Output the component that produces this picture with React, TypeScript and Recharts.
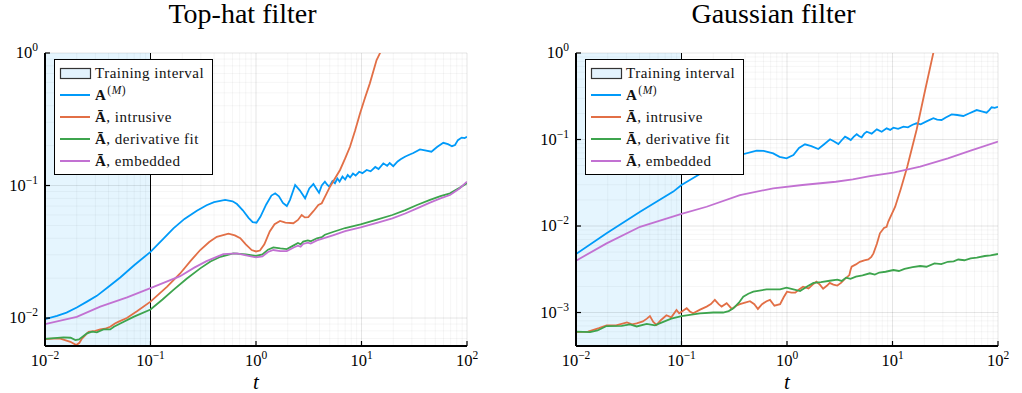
import {
  LineChart,
  Line,
  XAxis,
  YAxis,
  ReferenceArea,
  ReferenceLine,
} from 'recharts';

// Top-hat filter panel, [t, error] pairs
const topHatRef: [number, number][] = [
  [0.01, 0.0098], [0.013, 0.0104], [0.016, 0.011], [0.02, 0.012], [0.025, 0.0133],
  [0.031, 0.0147], [0.04, 0.0172], [0.052, 0.0203], [0.07, 0.025], [0.1, 0.0316],
  [0.13, 0.039], [0.165, 0.0475], [0.21, 0.056], [0.275, 0.0645], [0.34, 0.071],
  [0.4, 0.075], [0.51, 0.0778], [0.6, 0.076], [0.66, 0.0725], [0.75, 0.065],
  [0.85, 0.057], [0.93, 0.053], [1.01, 0.0524], [1.1, 0.058], [1.25, 0.072],
  [1.4, 0.084], [1.52, 0.0873], [1.65, 0.083], [1.8, 0.074], [1.96, 0.07],
  [2.1, 0.078], [2.35, 0.101], [2.6, 0.092], [2.92, 0.08], [3.2, 0.095],
  [3.5, 0.1026], [3.75, 0.094], [3.96, 0.088], [4.2, 0.1], [4.5, 0.107],
  [4.75, 0.101], [4.95, 0.098], [5.3, 0.108], [5.6, 0.104], [5.9, 0.113],
  [6.2, 0.107], [6.6, 0.117], [7.0, 0.111], [7.4, 0.12], [7.8, 0.115],
  [8.3, 0.123], [8.8, 0.119], [9.5, 0.127], [10.2, 0.124], [11.2, 0.131],
  [12.2, 0.128], [13.5, 0.138], [14.5, 0.133], [16.1, 0.147], [17.5, 0.141],
  [18.5, 0.148], [20, 0.14], [22, 0.152], [23.5, 0.158], [25.8, 0.165],
  [28, 0.17], [31, 0.176], [35.8, 0.1875], [40, 0.184], [46, 0.18],
  [52, 0.195], [59.6, 0.21], [66, 0.205], [72, 0.198], [77, 0.202],
  [82, 0.22], [89, 0.23], [95, 0.228], [100, 0.233],
];
const topHatIntrusive: [number, number][] = [
  [0.01, 0.00695], [0.012, 0.007], [0.014, 0.007], [0.0174, 0.00662], [0.0198, 0.00625],
  [0.0212, 0.0065], [0.0224, 0.007], [0.0259, 0.00788], [0.03, 0.008], [0.0334, 0.0082],
  [0.037, 0.0083], [0.0415, 0.0086], [0.046, 0.0091], [0.05, 0.0094], [0.0597, 0.01],
  [0.075, 0.0113], [0.1, 0.0133], [0.143, 0.0172], [0.191, 0.0217], [0.24, 0.027],
  [0.296, 0.0326], [0.36, 0.0375], [0.425, 0.041], [0.548, 0.0433], [0.63, 0.042],
  [0.71, 0.04], [0.8, 0.036], [0.91, 0.0326], [1.0, 0.0318], [1.09, 0.0323],
  [1.2, 0.036], [1.35, 0.045], [1.5, 0.051], [1.69, 0.054], [1.9, 0.0525],
  [2.26, 0.0519], [2.5, 0.055], [2.71, 0.0599], [2.9, 0.0575], [3.13, 0.0578],
  [3.5, 0.064], [3.9, 0.0713], [4.2, 0.0735], [4.6, 0.085], [5.03, 0.098],
  [5.6, 0.113], [6.26, 0.131], [7.0, 0.16], [7.78, 0.196], [8.7, 0.26],
  [9.68, 0.35], [10.8, 0.46], [12, 0.59], [13.9, 0.885], [15, 1.0], [16, 1.15],
];
const topHatDerivative: [number, number][] = [
  [0.01, 0.00695], [0.015, 0.00714], [0.0175, 0.0071], [0.0194, 0.00682], [0.021, 0.0069],
  [0.025, 0.00766], [0.028, 0.0079], [0.031, 0.0078], [0.0358, 0.0082], [0.0415, 0.0082],
  [0.045, 0.0086], [0.0517, 0.0091], [0.069, 0.0102], [0.1, 0.0116], [0.13, 0.0138],
  [0.165, 0.0163], [0.22, 0.0198], [0.296, 0.0237], [0.37, 0.0267], [0.46, 0.029],
  [0.61, 0.0308], [0.8, 0.0302], [1.0, 0.0294], [1.15, 0.0302], [1.3, 0.0328],
  [1.46, 0.0341], [1.7, 0.0335], [1.96, 0.0331], [2.3, 0.0355], [2.5, 0.0368],
  [2.65, 0.036], [2.8, 0.0377], [3.1, 0.0385], [3.3, 0.038], [3.78, 0.04],
  [4.2, 0.0408], [4.5, 0.0425], [5.44, 0.0448], [7, 0.0478], [9.8, 0.051],
  [14, 0.0553], [19.6, 0.0599], [26, 0.0652], [33.6, 0.0713], [44, 0.0775],
  [56, 0.0833], [69, 0.0873], [85, 0.096], [100, 0.104],
];
const topHatEmbedded: [number, number][] = [
  [0.01, 0.009], [0.02, 0.0102], [0.0334, 0.0122], [0.06, 0.0143], [0.1, 0.0168],
  [0.191, 0.0207], [0.26, 0.024], [0.34, 0.0269], [0.49, 0.0304], [0.66, 0.0308],
  [0.85, 0.0295], [1.0, 0.0287], [1.15, 0.0292], [1.3, 0.0315], [1.46, 0.0326],
  [1.7, 0.032], [1.96, 0.032], [2.3, 0.0342], [2.5, 0.0352], [2.65, 0.0345],
  [2.8, 0.0362], [3.1, 0.037], [3.3, 0.0365], [3.78, 0.0385], [4.5, 0.0402],
  [5.44, 0.0423], [7, 0.0452], [9.8, 0.0483], [14, 0.0522], [19.6, 0.0565],
  [26, 0.0615], [33.6, 0.0673], [44, 0.074], [56, 0.08], [69, 0.0848],
  [85, 0.095], [100, 0.107],
];

// Gaussian filter panel
const gaussRef: [number, number][] = [
  [0.01, 0.00475], [0.0195, 0.00823], [0.0405, 0.0146], [0.0836, 0.025], [0.1, 0.0298],
  [0.173, 0.0444], [0.31, 0.0632], [0.516, 0.0743], [0.6, 0.074], [0.74, 0.069],
  [0.85, 0.063], [0.99, 0.0605], [1.15, 0.066], [1.3, 0.08], [1.48, 0.088],
  [1.7, 0.084], [1.98, 0.0776], [2.25, 0.088], [2.56, 0.1005], [2.8, 0.095],
  [3.07, 0.0887], [3.3, 0.098], [3.55, 0.108], [3.8, 0.103], [4.02, 0.0987],
  [4.3, 0.108], [4.58, 0.115], [4.85, 0.109], [5.1, 0.106], [5.4, 0.117],
  [5.7, 0.123], [6.35, 0.117], [7.1, 0.131], [7.9, 0.123], [8.8, 0.1346],
  [9.5, 0.129], [10.2, 0.137], [11.3, 0.133], [12.7, 0.1406], [14, 0.138],
  [15.5, 0.148], [16.9, 0.154], [18.5, 0.15], [21, 0.162], [24.4, 0.176],
  [26.5, 0.17], [29.2, 0.168], [32, 0.18], [36.4, 0.195], [41, 0.192],
  [46.9, 0.187], [53, 0.2], [62.8, 0.219], [70, 0.212], [78, 0.204],
  [83, 0.22], [87, 0.236], [93, 0.232], [100, 0.239],
];
const gaussIntrusive: [number, number][] = [
  [0.01, 0.000595], [0.013, 0.0006], [0.0165, 0.00066], [0.0195, 0.00071], [0.024, 0.00071],
  [0.0304, 0.00077], [0.034, 0.00073], [0.0376, 0.00075], [0.043, 0.00079], [0.047, 0.00085],
  [0.0502, 0.00091], [0.054, 0.00078], [0.058, 0.00072], [0.064, 0.00082], [0.072, 0.00093],
  [0.08, 0.00088], [0.0897, 0.00107], [0.095, 0.00098], [0.1, 0.00102], [0.112, 0.00112],
  [0.12, 0.00103], [0.129, 0.00098], [0.15, 0.00108], [0.173, 0.00117], [0.19, 0.00125],
  [0.207, 0.0014], [0.225, 0.00125], [0.24, 0.00117], [0.268, 0.00128], [0.3, 0.0011],
  [0.33, 0.0012], [0.358, 0.00125], [0.4, 0.0013], [0.446, 0.00135], [0.49, 0.00125],
  [0.53, 0.0011], [0.58, 0.00125], [0.64, 0.00135], [0.69, 0.0014], [0.76, 0.0012],
  [0.86, 0.00125], [0.93, 0.0015], [1.0, 0.00174], [1.1, 0.0017], [1.2, 0.0017],
  [1.3, 0.00185], [1.42, 0.00199], [1.6, 0.0019], [1.75, 0.0021], [1.9, 0.00227],
  [2.05, 0.0021], [2.2, 0.00188], [2.4, 0.00205], [2.54, 0.0022], [2.75, 0.0021],
  [3.0, 0.00205], [3.25, 0.0022], [3.5, 0.00242], [3.9, 0.00271], [4.0, 0.0031],
  [4.1, 0.00339], [4.5, 0.0036], [4.9, 0.00386], [5.4, 0.004], [5.9, 0.00412],
  [6.3, 0.0044], [6.6, 0.00483], [7.1, 0.0062], [7.6, 0.00823], [8.3, 0.0095],
  [8.8, 0.0098], [9.1, 0.0112], [10.6, 0.0167], [12, 0.027], [13.8, 0.0485],
  [16.9, 0.129], [20.4, 0.373], [24.5, 1.03], [26, 1.3],
];
const gaussDerivative: [number, number][] = [
  [0.01, 0.0006], [0.0136, 0.000595], [0.016, 0.00062], [0.0195, 0.000698], [0.0271, 0.0007],
  [0.0325, 0.00073], [0.0376, 0.00069], [0.0468, 0.00074], [0.056, 0.00071], [0.0672, 0.00078],
  [0.08, 0.00085], [0.1, 0.00091], [0.15, 0.00098], [0.2, 0.001], [0.248, 0.001],
  [0.28, 0.00104], [0.31, 0.00112], [0.35, 0.0013], [0.385, 0.00152], [0.43, 0.00165],
  [0.48, 0.00174], [0.64, 0.00185], [0.86, 0.00185], [0.99, 0.00194], [1.15, 0.00185],
  [1.33, 0.00177], [1.55, 0.002], [1.78, 0.0022], [2.1, 0.00225], [2.54, 0.00233],
  [3.0, 0.0024], [3.3, 0.00232], [3.63, 0.00253], [4.0, 0.00245], [4.5, 0.0026],
  [5.2, 0.00268], [6.1, 0.00284], [6.8, 0.00275], [7.5, 0.0029], [8.6, 0.00296],
  [10.2, 0.0031], [11.5, 0.00302], [13, 0.0032], [15.5, 0.00335], [18.3, 0.00345],
  [21, 0.00338], [25, 0.0037], [29, 0.00362], [33.5, 0.00386], [38, 0.0039],
  [42, 0.0041], [48, 0.00402], [55, 0.00423], [63, 0.0043], [75, 0.0045],
  [85, 0.00458], [100, 0.00475],
];
const gaussEmbedded: [number, number][] = [
  [0.01, 0.00397], [0.0195, 0.0063], [0.0405, 0.0098], [0.1, 0.0138], [0.173, 0.0167],
  [0.358, 0.0228], [0.74, 0.0273], [1.4, 0.0298], [2.9, 0.0325], [4.2, 0.0346],
  [6.1, 0.0378], [10.2, 0.0413], [18.3, 0.0485], [33.5, 0.0605], [55, 0.0743],
  [100, 0.0944],
];

const xTicks = [0.01, 0.1, 1, 10, 100];
const topHatYTicks = [0.01, 0.1, 1];
const gaussYTicks = [0.001, 0.01, 0.1, 1];
const trainingInterval = [0.01, 0.1];

const COLORS = {
  ref: '#009af9',
  intrusive: '#e26f46',
  derivative: '#3da44d',
  embedded: '#c271d2',
};
const SERIF = '"Liberation Serif", "DejaVu Serif", serif';

const toRows = (pts: [number, number][]) => pts.map(([t, v]) => ({ t, v }));

// 1..9 x 10^e for every decade between lo and hi
function logGrid(lo: number, hi: number) {
  const out: { v: number; major: boolean }[] = [];
  for (let e = lo; e < hi; e++) {
    for (let m = 1; m <= 9; m++) out.push({ v: Number((m * Math.pow(10, e)).toPrecision(3)), major: m === 1 });
  }
  out.push({ v: Math.pow(10, hi), major: true });
  return out;
}

const expLabel = (v: number) => {
  const e = Math.round(Math.log10(v));
  return e < 0 ? '\u2212' + -e : String(e);
};

const XTick = (props: any) => {
  const { x, y, payload } = props;
  return (
    <g>
      <line x1={x} y1={y} x2={x} y2={y - 5} stroke="#000" strokeWidth={1.2} />
      <text x={x} y={y + 20} textAnchor="middle" fontFamily={SERIF} fontSize={16.5} fill="#000">
        10
        <tspan dy={-7} fontSize={11.5}>{expLabel(payload.value)}</tspan>
      </text>
    </g>
  );
};

const YTick = (props: any) => {
  const { x, y, payload } = props;
  return (
    <g>
      <line x1={x} y1={y} x2={x + 5} y2={y} stroke="#000" strokeWidth={1.2} />
      <text x={x - 7} y={y + 5} textAnchor="end" fontFamily={SERIF} fontSize={16.5} fill="#000">
        10
        <tspan dy={-7} fontSize={11.5}>{expLabel(payload.value)}</tspan>
      </text>
    </g>
  );
};

const Bold = ({ children }: { children: any }) => <span style={{ fontWeight: 700 }}>{children}</span>;

const legendRows = [
  { key: 'train', color: '', label: <>Training interval</> },
  {
    key: 'ref',
    color: COLORS.ref,
    label: (
      <>
        <Bold>A</Bold>
        <span style={{ fontSize: 11.5, position: 'relative', top: -6, marginLeft: 1 }}>
          (<i>M</i>)
        </span>
      </>
    ),
  },
  { key: 'intrusive', color: COLORS.intrusive, label: <><Bold>Ā</Bold>, intrusive</> },
  { key: 'derivative', color: COLORS.derivative, label: <><Bold>Ā</Bold>, derivative fit</> },
  { key: 'embedded', color: COLORS.embedded, label: <><Bold>Ā</Bold>, embedded</> },
];

const LegendBox = () => (
  <div
    style={{
      width: 157,
      border: '1.5px solid #000',
      background: '#fff',
      padding: '2px 0 2px 0',
      fontFamily: SERIF,
      fontSize: 15,
      letterSpacing: 0.5,
      color: '#111',
    }}
  >
    {legendRows.map((r) => (
      <div key={r.key} style={{ display: 'flex', alignItems: 'center', height: 22 }}>
        <svg width={40} height={14} style={{ flex: 'none' }}>
          {r.key === 'train' ? (
            <rect x={5.5} y={2.5} width={30} height={10} fill="#e3f2fd" stroke="#333" strokeWidth={1.2} />
          ) : (
            <line x1={5} x2={35} y1={7} y2={7} stroke={r.color} strokeWidth={2} />
          )}
        </svg>
        <span style={{ whiteSpace: 'nowrap' }}>{r.label}</span>
      </div>
    ))}
  </div>
);

type PanelProps = {
  title: string;
  left: number;
  yTicks: number[];
  yMinExp: number;
  gridLo: number;
  ref_: [number, number][];
  intrusive: [number, number][];
  derivative: [number, number][];
  embedded: [number, number][];
};

const Panel = ({ title, left, yTicks, yMinExp, gridLo, ref_, intrusive, derivative, embedded }: PanelProps) => {
  const xGrid = logGrid(-2, 2);
  const yGrid = logGrid(gridLo, 0);
  const series = [
    { key: 'ref', pts: ref_, color: COLORS.ref },
    { key: 'intrusive', pts: intrusive, color: COLORS.intrusive },
    { key: 'derivative', pts: derivative, color: COLORS.derivative },
    { key: 'embedded', pts: embedded, color: COLORS.embedded },
  ];
  return (
    <div style={{ position: 'absolute', left, top: 0, width: 511, height: 393 }}>
      <div
        style={{
          position: 'absolute',
          left: 0,
          width: 485,
          top: 0,
          textAlign: 'center',
          fontFamily: SERIF,
          fontSize: 28,
          lineHeight: '28px',
          color: '#000',
          whiteSpace: 'nowrap',
        }}
      >
        {title}
      </div>
      <LineChart width={511} height={393} margin={{ top: 53, right: 44, bottom: 0, left: 0 }}>
        <XAxis
          dataKey="t"
          type="number"
          scale="log"
          domain={[0.01, 100]}
          allowDataOverflow
          ticks={xTicks}
          tick={XTick}
          tickLine={false}
          tickSize={0}
          tickMargin={0}
          height={47}
          axisLine={{ stroke: '#000', strokeWidth: 2 }}
          label={{
            value: 't',
            position: 'insideBottom',
            offset: 4,
            style: { fontFamily: SERIF, fontStyle: 'italic', fontSize: 21, fill: '#000' },
          }}
        />
        <YAxis
          type="number"
          scale="log"
          domain={[Math.pow(10, yMinExp), 1]}
          allowDataOverflow
          ticks={yTicks}
          tick={YTick}
          tickLine={false}
          tickSize={0}
          tickMargin={0}
          width={45}
          axisLine={{ stroke: '#000', strokeWidth: 2 }}
        />
        <ReferenceArea
          x1={trainingInterval[0]}
          x2={trainingInterval[1]}
          fill="#009af9"
          fillOpacity={0.1}
          stroke="none"
        />
        {xGrid.map((g) => (
          <ReferenceLine
            key={'x' + g.v}
            x={g.v}
            stroke="#000"
            strokeOpacity={g.major ? 0.1 : 0.05}
            strokeWidth={g.major ? 1 : 0.8}
          />
        ))}
        {yGrid.map((g) => (
          <ReferenceLine
            key={'y' + g.v}
            y={g.v}
            stroke="#000"
            strokeOpacity={g.major ? 0.1 : 0.05}
            strokeWidth={g.major ? 1 : 0.8}
          />
        ))}
        <ReferenceLine x={trainingInterval[1]} stroke="#000" strokeWidth={1} />
        {series.map((s) => (
          <Line
            key={s.key}
            data={toRows(s.pts)}
            dataKey="v"
            stroke={s.color}
            strokeWidth={1.8}
            dot={false}
            type="linear"
            isAnimationActive={false}
          />
        ))}
      </LineChart>
      <div style={{ position: 'absolute', left: 54, top: 59 }}>
        <LegendBox />
      </div>
    </div>
  );
};

export default function App() {
  return (
    <div style={{ position: 'absolute', left: 0, top: 0, width: 1022, height: 393, background: '#fff' }}>
      <Panel
        title="Top-hat filter"
        left={0}
        yTicks={topHatYTicks}
        yMinExp={-2.211}
        gridLo={-3}
        ref_={topHatRef}
        intrusive={topHatIntrusive}
        derivative={topHatDerivative}
        embedded={topHatEmbedded}
      />
      <Panel
        title="Gaussian filter"
        left={531}
        yTicks={gaussYTicks}
        yMinExp={-3.387}
        gridLo={-4}
        ref_={gaussRef}
        intrusive={gaussIntrusive}
        derivative={gaussDerivative}
        embedded={gaussEmbedded}
      />
    </div>
  );
}
